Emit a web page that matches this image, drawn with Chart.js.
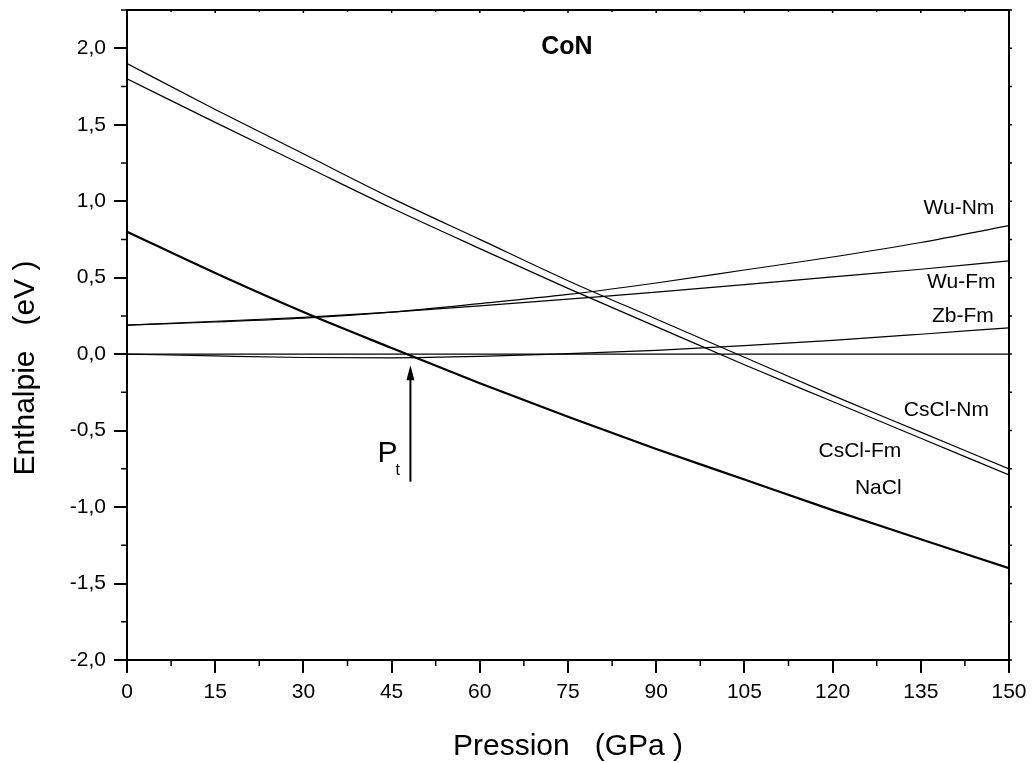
<!DOCTYPE html>
<html lang="fr">
<head>
<meta charset="UTF-8">
<title>CoN - Enthalpie</title>
<script src="https://cdn.jsdelivr.net/npm/chart.js"></script>
<style>
  html, body { margin: 0; padding: 0; background: #fff; }
  #wrap { width: 1035px; height: 763px; }
</style>
</head>
<body>
<div id="wrap"><canvas id="enthChart"></canvas></div>
<script>
// pressions (GPa) ou les courbes ont ete lues
const pression = [0, 15, 30, 45, 60, 75, 90, 105, 120, 135, 150];
const zbRef  = [0, 0, 0, 0, 0, 0, 0, 0, 0, 0, 0];
const zbFm   = [0, -0.012, -0.022, -0.024, -0.015, 0.003, 0.025, 0.055, 0.09, 0.13, 0.172];
const wuFm   = [0.19, 0.215, 0.24, 0.275, 0.315, 0.36, 0.405, 0.455, 0.505, 0.555, 0.61];
const wuNm   = [0.19, 0.21, 0.235, 0.275, 0.33, 0.39, 0.465, 0.55, 0.635, 0.73, 0.84];
const csclNm = [1.90, 1.60, 1.31, 1.02, 0.75, 0.48, 0.23, -0.02, -0.27, -0.51, -0.75];
const csclFm = [1.80, 1.515, 1.235, 0.955, 0.69, 0.43, 0.18, -0.07, -0.31, -0.55, -0.79];
const nacl   = [0.80, 0.53, 0.275, 0.04, -0.19, -0.41, -0.62, -0.82, -1.02, -1.21, -1.40];

const xTicks = [0, 15, 30, 45, 60, 75, 90, 105, 120, 135, 150];
const yTicks = [-2.0, -1.5, -1.0, -0.5, 0.0, 0.5, 1.0, 1.5, 2.0];
const pTransition = 48.2;

const FONT = "'Liberation Sans', Arial, Helvetica, sans-serif";
Chart.defaults.font.family = FONT;
Chart.defaults.color = '#000';

function serie(label, vals, w) {
    return {
        label: label,
        data: pression.map((p, i) => ({ x: p, y: vals[i] })),
        borderColor: '#000',
        borderWidth: w || 1.2,
        pointRadius: 0,
        fill: false,
        cubicInterpolationMode: 'monotone'
    };
}

const comma = v => Number(v).toFixed(1).replace('.', ',');

// cadre, petites graduations, textes et fleche
const decor = {
    id: 'decor',
    afterDraw(chart) {
        const { ctx, chartArea: a, scales: { x, y } } = chart;
        ctx.save();
        ctx.strokeStyle = '#000';
        ctx.fillStyle = '#000';
        ctx.lineWidth = 2;
        ctx.strokeRect(a.left, a.top, a.right - a.left, a.bottom - a.top);

        ctx.lineWidth = 1.5;
        ctx.beginPath();
        for (let v = 7.5; v < 150; v += 15) {
            const px = x.getPixelForValue(v);
            ctx.moveTo(px, a.bottom); ctx.lineTo(px, a.bottom + 6);
            ctx.moveTo(px, a.top); ctx.lineTo(px, a.top + 2);
        }
        xTicks.forEach(v => {
            const px = x.getPixelForValue(v);
            ctx.moveTo(px, a.top); ctx.lineTo(px, a.top + 3);
        });
        for (let v = -1.75; v < 2.3; v += 0.5) {
            const py = y.getPixelForValue(v);
            ctx.moveTo(a.left - 6, py); ctx.lineTo(a.left, py);
            ctx.moveTo(a.right, py); ctx.lineTo(a.right + 3, py);
        }
        yTicks.forEach(v => {
            const py = y.getPixelForValue(v);
            ctx.moveTo(a.right, py); ctx.lineTo(a.right + 3, py);
        });
        ctx.stroke();

        // titre
        ctx.font = 'bold 25px ' + FONT;
        ctx.textAlign = 'center';
        ctx.textBaseline = 'middle';
        ctx.fillText('CoN', x.getPixelForValue(74.8), y.getPixelForValue(2.01));

        // noms des phases
        ctx.font = '21px ' + FONT;
        const lab = (t, p, e, align) => {
            ctx.textAlign = align;
            ctx.fillText(t, x.getPixelForValue(p), y.getPixelForValue(e));
        };
        lab('Wu-Nm', 147.5, 0.956, 'right');
        lab('Wu-Fm', 147.7, 0.473, 'right');
        lab('Zb-Fm', 147.4, 0.248, 'right');
        lab('CsCl-Nm', 146.6, -0.366, 'right');
        lab('CsCl-Fm', 117.6, -0.634, 'left');
        lab('NaCl', 123.8, -0.876, 'left');

        // fleche P_t
        const ax = x.getPixelForValue(pTransition);
        const yTop = y.getPixelForValue(-0.072);
        const yBot = y.getPixelForValue(-0.834);
        ctx.lineWidth = 2;
        ctx.beginPath();
        ctx.moveTo(ax, yBot); ctx.lineTo(ax, yTop + 12);
        ctx.stroke();
        ctx.beginPath();
        ctx.moveTo(ax, yTop);
        ctx.lineTo(ax - 4, yTop + 15);
        ctx.lineTo(ax + 4, yTop + 15);
        ctx.closePath();
        ctx.fill();
        ctx.textAlign = 'left';
        ctx.textBaseline = 'alphabetic';
        ctx.font = '30px ' + FONT;
        ctx.fillText('P', ax - 33, yBot - 20);
        ctx.font = '16px ' + FONT;
        ctx.fillText('t', ax - 15, yBot - 7);

        // titres des axes
        ctx.font = '30px ' + FONT;
        ctx.textAlign = 'center';
        ctx.fillText('Pression   (GPa )', (a.left + a.right) / 2, 755);
        ctx.translate(34, 368);
        ctx.rotate(-Math.PI / 2);
        ctx.fillText('Enthalpie   (eV )', 0, 0);
        ctx.restore();
    }
};

new Chart(document.getElementById('enthChart'), {
    type: 'line',
    data: {
        datasets: [
            serie('Zb (ref.)', zbRef),
            serie('Zb-Fm', zbFm),
            serie('Wu-Fm', wuFm),
            serie('Wu-Nm', wuNm),
            serie('CsCl-Nm', csclNm),
            serie('CsCl-Fm', csclFm),
            serie('NaCl', nacl, 2.2)
        ]
    },
    options: {
        responsive: true,
        maintainAspectRatio: false,
        animation: false,
        layout: { padding: { left: 0, top: 10, right: 26, bottom: 0 } },
        plugins: { legend: { display: false }, tooltip: { enabled: false } },
        scales: {
            x: {
                type: 'linear',
                min: 0, max: 150,
                afterBuildTicks: s => { s.ticks = xTicks.map(v => ({ value: v })); },
                afterFit: s => { s.height = 103; s.paddingLeft = 0; s.paddingRight = 0; },
                ticks: { font: { size: 21 }, padding: 7, maxRotation: 0, callback: v => String(v) },
                grid: { display: true, drawOnChartArea: false, drawTicks: true, tickLength: 13, color: '#000', lineWidth: 2 },
                border: { display: false }
            },
            y: {
                type: 'linear',
                min: -2.0, max: 2.25,
                afterBuildTicks: s => { s.ticks = yTicks.map(v => ({ value: v })); },
                afterFit: s => { s.width = 127; s.paddingTop = 0; s.paddingBottom = 0; },
                ticks: { font: { size: 21 }, padding: 8, callback: comma },
                grid: { display: true, drawOnChartArea: false, drawTicks: true, tickLength: 13, color: '#000', lineWidth: 2 },
                border: { display: false }
            }
        }
    },
    plugins: [decor]
});
</script>
</body>
</html>
